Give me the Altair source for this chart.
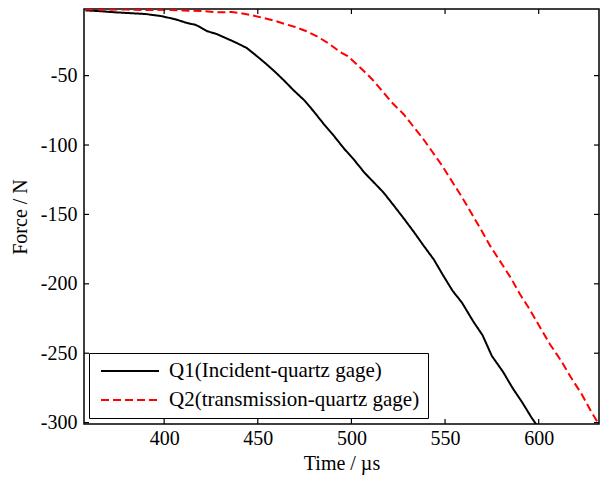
import altair as alt
import pandas as pd

# ---- data ----
t_q1 = [358, 365, 374, 382, 390, 398, 406, 412, 417, 423, 428, 433, 438, 444, 449,
        454, 459, 464, 469, 475, 480, 485, 491, 496, 501, 507, 512, 517, 522, 528,
        533, 538, 544, 549, 554, 559, 565, 570, 575, 581, 586, 591, 596, 599]
f_q1 = [-3, -3.5, -4.4, -5, -5.6, -7, -9.4, -12, -13.5, -18, -20, -23, -26, -30, -35.4,
        -41, -47, -53.5, -60.4, -68, -76, -84.5, -94, -102.5, -110, -120, -127, -134, -142.5, -153,
        -162, -171.5, -182.5, -194, -205, -213.5, -227, -237, -252, -263.5, -275, -285, -296, -302]

t_q2 = [358, 370, 380, 390, 400, 410, 420, 429, 436, 441, 448, 453, 459, 465, 470,
        476, 482, 488, 494, 498, 503, 508, 512, 517, 522, 528, 533, 538, 543, 548,
        553, 559, 564, 569, 574, 580, 585, 590, 595, 601, 606, 612, 617, 623, 628, 632]
f_q2 = [-2.3, -2.5, -2.4, -2.8, -2.6, -3, -3.5, -4.4, -4.2, -5, -6.8, -8.5, -10.4, -13, -15,
        -18, -22, -27, -33, -36, -42, -48.5, -54, -62, -69.9, -78, -86.6, -95, -104.5, -114,
        -124.7, -137.5, -149, -160.5, -172.5, -185, -195.5, -207.5, -218, -232, -243.5, -255.5, -267, -279.6, -292, -301]

series_names = ["Q1(Incident-quartz gage)", "Q2(transmission-quartz gage)"]
x_ticks = [400, 450, 500, 550, 600]
y_ticks = [-50, -100, -150, -200, -250, -300]
x_domain = [357.2, 632.2]
y_domain = [-301, -2]

df = pd.concat([
    pd.DataFrame({"t": t_q1, "F": f_q1, "series": series_names[0]}),
    pd.DataFrame({"t": t_q2, "F": f_q2, "series": series_names[1]}),
])
xt = pd.DataFrame({"v": x_ticks})
yt = pd.DataFrame({"v": y_ticks})

FONT = "Liberation Serif"
W, H = 515, 415
TL = 5

xs = alt.Scale(domain=x_domain, nice=False, zero=False)
ys = alt.Scale(domain=y_domain, nice=False, zero=False)

x_axis = alt.Axis(values=x_ticks, title="Time / µs", ticks=False, domain=False, grid=False,
                  labelPadding=4, titlePadding=5)
y_axis = alt.Axis(values=y_ticks, title="Force / N", ticks=False, domain=False, grid=False,
                  labelPadding=7, titlePadding=10,
                  labelExpr="'-' + format(abs(datum.value), 'd')")

leg = alt.Legend(orient="none", legendX=5, legendY=344, title=None,
                 strokeColor="black", fillColor="white", padding=8,
                 symbolType="stroke", symbolSize=3364, symbolStrokeWidth=2,
                 symbolOffset=3, labelOffset=9, clipHeight=20, rowPadding=8,
                 labelFont=FONT, labelFontSize=21, labelColor="black", labelLimit=0)

lines = alt.Chart(df).mark_line(clip=True, strokeWidth=2).encode(
    x=alt.X("t:Q", scale=xs, axis=x_axis),
    y=alt.Y("F:Q", scale=ys, axis=y_axis),
    color=alt.Color("series:N", scale=alt.Scale(domain=series_names, range=["black", "red"]), legend=leg),
    strokeDash=alt.StrokeDash("series:N", scale=alt.Scale(domain=series_names, range=[[1, 0], [8, 4]]), legend=leg),
)

bottom_ticks = alt.Chart(xt).mark_rule(color="black", strokeWidth=1.2).encode(
    x=alt.X("v:Q", scale=xs, axis=x_axis), y=alt.value(H), y2=alt.value(H - TL))
top_ticks = alt.Chart(xt).mark_rule(color="black", strokeWidth=1.2).encode(
    x=alt.X("v:Q", scale=xs, axis=x_axis), y=alt.value(0), y2=alt.value(TL))
left_ticks = alt.Chart(yt).mark_rule(color="black", strokeWidth=1.2).encode(
    y=alt.Y("v:Q", scale=ys, axis=y_axis), x=alt.value(0), x2=alt.value(TL))
right_ticks = alt.Chart(yt).mark_rule(color="black", strokeWidth=1.2).encode(
    y=alt.Y("v:Q", scale=ys, axis=y_axis), x=alt.value(W), x2=alt.value(W - TL))

chart = alt.layer(lines, bottom_ticks, top_ticks, left_ticks, right_ticks).properties(
    width=W, height=H,
    autosize=alt.AutoSizeParams(type="none"),
    padding={"left": 76, "top": 1, "right": 2, "bottom": 54},
).configure_view(stroke="black", strokeWidth=1.5).configure_axis(
    labelFont=FONT, labelFontSize=20, labelColor="black",
    titleFont=FONT, titleFontSize=20, titleFontWeight="normal", titleColor="black",
)

chart.save("out.html", embed_options={"renderer": "svg", "actions": False})
